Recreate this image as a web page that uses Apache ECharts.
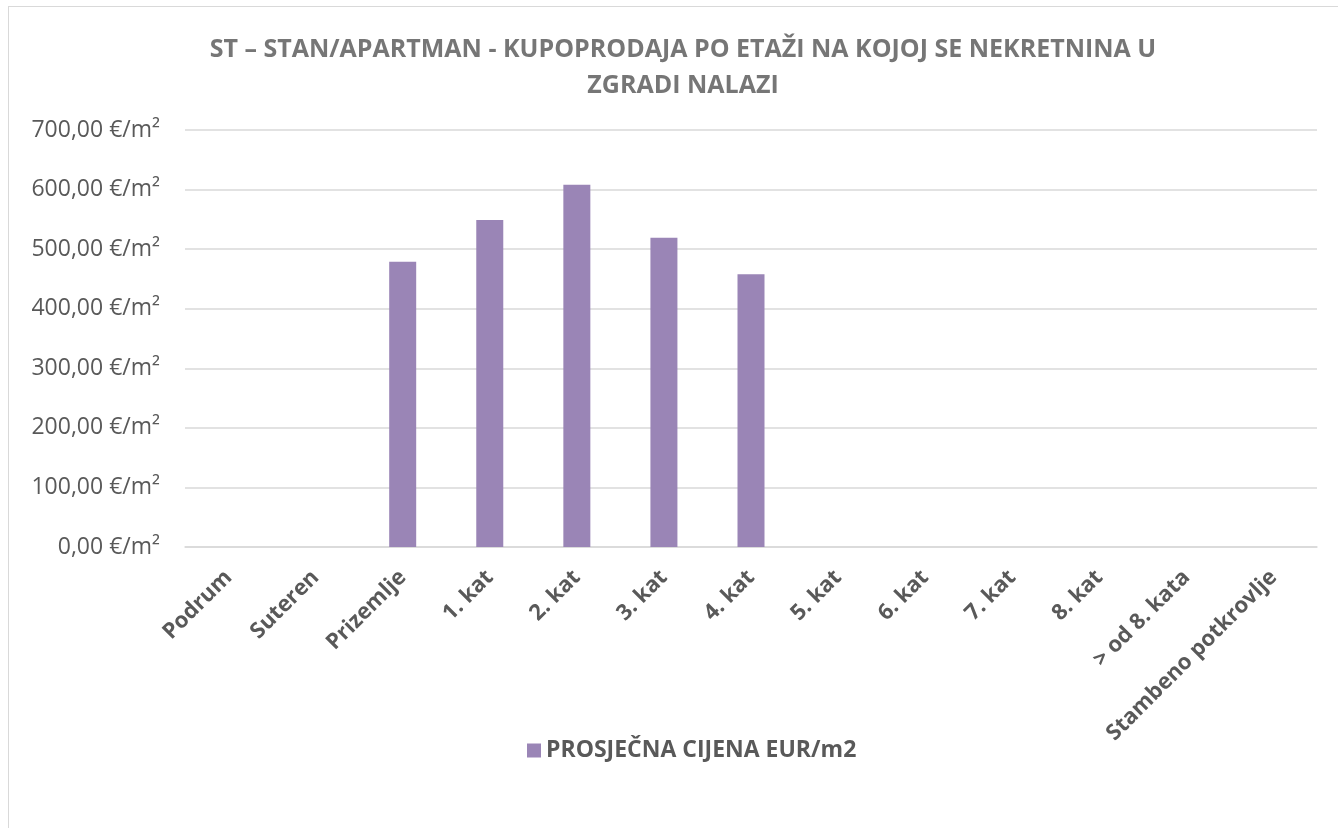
<!DOCTYPE html>
<html>
<head>
<meta charset="utf-8">
<script src="https://cdn.jsdelivr.net/npm/echarts@6/dist/echarts.min.js"></script>
<style>
    html, body { margin: 0; padding: 0; background: #fff; }
    #frame { position: absolute; left: 8px; top: 6px; width: 1340px; height: 830px; border: 1px solid #d9d9d9; box-sizing: border-box; }
    #chart { position: absolute; left: 0; top: 0; width: 1338px; height: 828px; }
</style>
</head>
<body>
<div id="frame"></div>
<div id="chart"></div>
<script>
    var categories = ['Podrum', 'Suteren', 'Prizemlje', '1. kat', '2. kat', '3. kat', '4. kat',
        '5. kat', '6. kat', '7. kat', '8. kat', '> od 8. kata', 'Stambeno potkrovlje'];
    var prices = [null, null, 479, 549, 608, 519, 458, null, null, null, null, null, null];
    var seriesName = 'PROSJEČNA CIJENA EUR/m2';
    var titleText = 'ST – STAN/APARTMAN - KUPOPRODAJA PO ETAŽI NA KOJOJ SE NEKRETNINA U\nZGRADI NALAZI';

    var font = '"Open Sans", sans-serif';
    var chart = echarts.init(document.getElementById('chart'));
    chart.setOption({
        animation: false,
        textStyle: {fontFamily: font},
        title: {
            text: titleText,
            left: 678,
            textAlign: 'center',
            top: 27,
            textStyle: {
                fontFamily: font,
                fontSize: 25,
                fontWeight: 'bold',
                color: '#767676',
                lineHeight: 36
            }
        },
        legend: {
            data: [seriesName],
            left: 522,
            top: 734,
            itemWidth: 14,
            itemHeight: 14,
            itemGap: 6,
            icon: 'rect',
            textStyle: {fontFamily: font, fontSize: 23, fontWeight: 'bold', color: '#595959'}
        },
        grid: {left: 185, right: 21, top: 130, bottom: 281, containLabel: false},
        xAxis: {
            type: 'category',
            data: categories,
            axisLine: {lineStyle: {color: '#d9d9d9', width: 1.5}},
            axisTick: {show: false},
            axisLabel: {
                rotate: 45,
                interval: 0,
                margin: 27,
                fontFamily: font,
                fontSize: 22,
                fontWeight: 'bold',
                color: '#595959'
            }
        },
        yAxis: {
            type: 'value',
            min: 0,
            max: 700,
            interval: 100,
            axisLine: {show: false},
            axisTick: {show: false},
            splitLine: {lineStyle: {color: '#d9d9d9', width: 1.5}},
            axisLabel: {
                margin: 25,
                fontFamily: font,
                fontSize: 23,
                color: '#595959',
                formatter: function (v) {
                    return v.toFixed(2).replace('.', ',') + ' €/m²';
                }
            }
        },
        series: [{
            name: seriesName,
            type: 'bar',
            data: prices,
            barWidth: 27,
            itemStyle: {color: '#9a85b6'}
        }]
    });
</script>
</body>
</html>
